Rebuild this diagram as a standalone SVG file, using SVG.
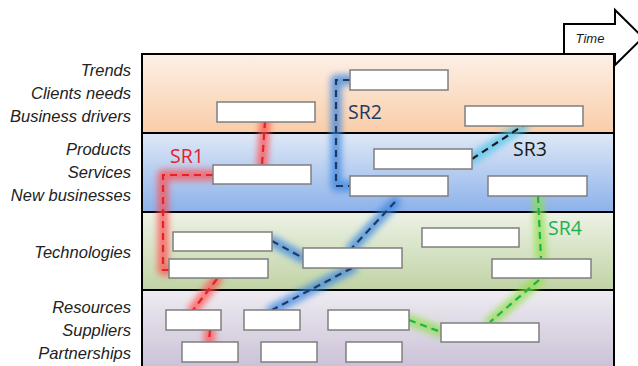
<svg xmlns="http://www.w3.org/2000/svg" width="638" height="366" viewBox="0 0 638 366">
<defs>
<linearGradient id="gO" x1="0" y1="0" x2="0" y2="1"><stop offset="0" stop-color="#fdf0e6"/><stop offset="1" stop-color="#f9cda9"/></linearGradient>
<linearGradient id="gB" x1="0" y1="0" x2="0" y2="1"><stop offset="0" stop-color="#dfe8f6"/><stop offset="1" stop-color="#8cb1ea"/></linearGradient>
<linearGradient id="gG" x1="0" y1="0" x2="0" y2="1"><stop offset="0" stop-color="#edf2e6"/><stop offset="1" stop-color="#c0d3a4"/></linearGradient>
<linearGradient id="gP" x1="0" y1="0" x2="0" y2="1"><stop offset="0" stop-color="#eeecf1"/><stop offset="1" stop-color="#c9c0d6"/></linearGradient>
<filter id="blur" x="-50%" y="-50%" width="200%" height="200%"><feGaussianBlur stdDeviation="3"/></filter>
</defs>
<style>
.lbl{font-family:"Liberation Sans",Arial,sans-serif;font-style:italic;font-size:16.5px;fill:#222;text-anchor:end}
.box{fill:#ffffff;stroke:#7f7f7f;stroke-width:1.5}
.sep{stroke:#000;stroke-width:2;fill:none}
.sr{font-family:"Open Sans","Liberation Sans",sans-serif;font-size:19.5px}
.glow{fill:none;stroke-width:11;stroke-linecap:round;stroke-linejoin:round;opacity:0.75;filter:url(#blur)}
.dash{fill:none;stroke-width:2.2;stroke-dasharray:7 5}
.gr{stroke:#ff5050}.gb{stroke:#3b86e0}.gc{stroke:#4fc3ea}.gg{stroke:#8fe04a}
.dr{stroke:#e8202a}.db{stroke:#1f3864}.dk{stroke:#1a1a1a}.dg{stroke:#1fb050}
</style>
<g id="bands">
<rect x="142" y="54" width="472" height="79" fill="url(#gO)"/>
<rect x="142" y="133" width="472" height="79" fill="url(#gB)"/>
<rect x="142" y="212" width="472" height="78" fill="url(#gG)"/>
<rect x="142" y="290" width="472" height="80" fill="url(#gP)"/>
<path class="sep" d="M142 370V54H614V370M142 133H614M142 212H614M142 290H614"/>
</g>
<g id="time-arrow">
<path d="M564 53V24H615V10L643 37.5L615 65V53" fill="#fff" stroke="#000" stroke-width="2" stroke-linejoin="miter"/>
<text x="590" y="43" font-family="Liberation Sans,Arial,sans-serif" font-style="italic" font-size="13" fill="#1a1a1a" text-anchor="middle">Time</text>
</g>
<g id="labels">
<text class="lbl" x="131" y="76">Trends</text>
<text class="lbl" x="131" y="99">Clients needs</text>
<text class="lbl" x="131" y="122">Business drivers</text>
<text class="lbl" x="131" y="155">Products</text>
<text class="lbl" x="131" y="178">Services</text>
<text class="lbl" x="131" y="201">New businesses</text>
<text class="lbl" x="131" y="258">Technologies</text>
<text class="lbl" x="131" y="313">Resources</text>
<text class="lbl" x="131" y="336">Suppliers</text>
<text class="lbl" x="131" y="359">Partnerships</text>
</g>
<g id="connectors">
<g id="glows">
<path class="glow gr" d="M265 121L262 165M213 175H163V270H169M217 279L193 310M210 330L209 342"/>
<path class="glow gb" d="M350 80H336V186H350M395 202L352 248M352 268L272 310M272 241L303 258"/>
<path class="glow gc" d="M472 159L524 125"/>
<path class="glow gg" d="M538 196L541 259M539 280L490 322M409 320L441 332"/>
</g>
<path class="dash dr" d="M265 121L262 165M213 175H163V270H169M217 279L193 310M210 330L209 342"/>
<path class="dash db" d="M350 80H336V186H350M395 202L352 248M352 268L272 310M272 241L303 258"/>
<path class="dash dk" d="M472 159L524 125"/>
<path class="dash dg" d="M538 196L541 259M539 280L490 322M409 320L441 332"/>
</g>
<g id="nodes">
<rect id="n1" class="box" x="217" y="102" width="98" height="20"/>
<rect id="n2" class="box" x="350" y="70" width="98" height="20"/>
<rect id="n3" class="box" x="465" y="106" width="118" height="20"/>
<rect id="n4" class="box" x="213" y="165" width="98" height="19"/>
<rect id="n5" class="box" x="374" y="149" width="98" height="20"/>
<rect id="n6" class="box" x="350" y="176" width="98" height="20"/>
<rect id="n7" class="box" x="488" y="176" width="99" height="20"/>
<rect id="n8" class="box" x="173" y="232" width="99" height="19"/>
<rect id="n9" class="box" x="169" y="259" width="99" height="19"/>
<rect id="n10" class="box" x="303" y="248" width="99" height="20"/>
<rect id="n11" class="box" x="422" y="228" width="97" height="19"/>
<rect id="n12" class="box" x="492" y="259" width="99" height="19"/>
<rect id="n13" class="box" x="166" y="310" width="55" height="20"/>
<rect id="n14" class="box" x="244" y="310" width="56" height="20"/>
<rect id="n15" class="box" x="328" y="310" width="81" height="20"/>
<rect id="n16" class="box" x="441" y="323" width="98" height="19"/>
<rect id="n17" class="box" x="182" y="342" width="56" height="20"/>
<rect id="n18" class="box" x="261" y="342" width="56" height="20"/>
<rect id="n19" class="box" x="346" y="342" width="56" height="20"/>
</g>
<g id="sr-labels">
<text class="sr" x="170" y="163" fill="#e8202a">SR1</text>
<text class="sr" x="348" y="119" fill="#1f3864">SR2</text>
<text class="sr" x="513" y="156" fill="#1a1a1a">SR3</text>
<text class="sr" x="548" y="235" fill="#1fb050">SR4</text>
</g>
</svg>
